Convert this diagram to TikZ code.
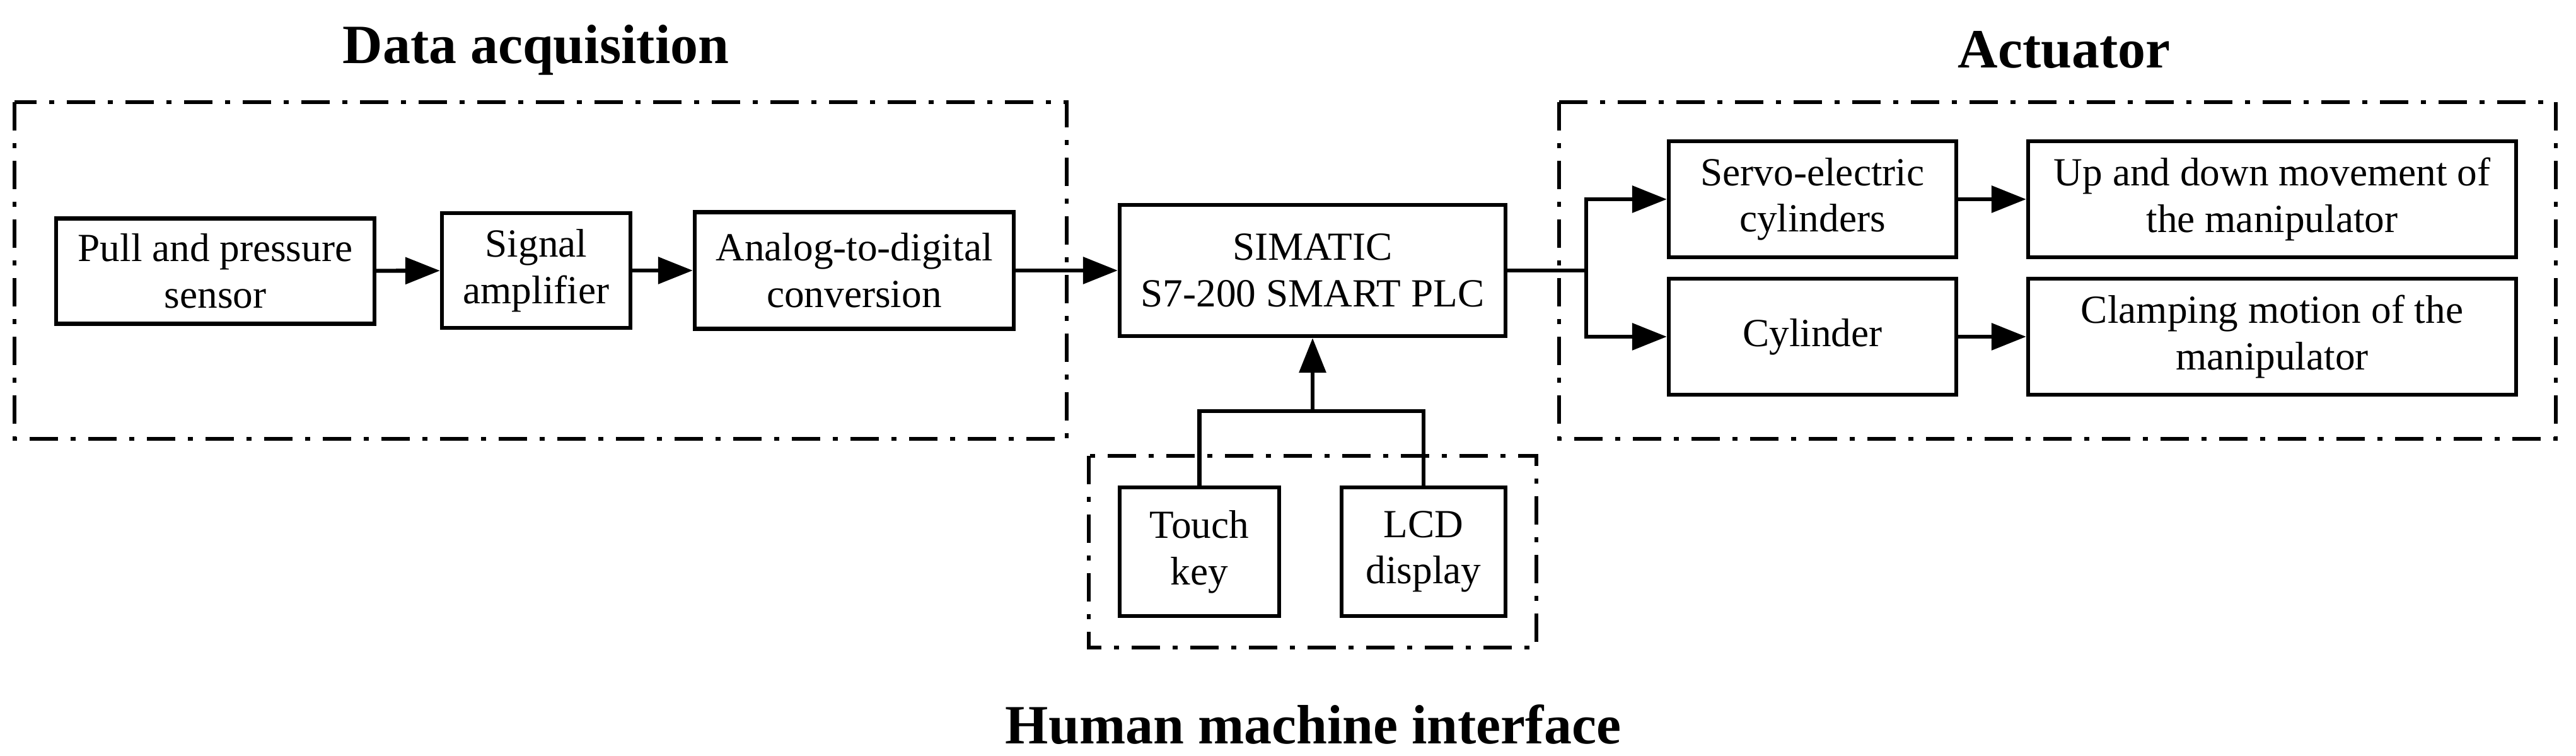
\documentclass[tikz,border=0pt]{standalone}
\usepackage{fontspec}
\setmainfont{Liberation Serif}
\usetikzlibrary{positioning,arrows.meta}

\tikzset{
  blk/.style={draw, line width=1.8pt, rectangle, align=center, inner sep=0pt,
    font=\fontsize{18}{21}\selectfont},
  grp/.style={line width=1.5pt, dash pattern=on 0.45cm off 0.2cm on 0.08cm off 0.2cm},
  ttl/.style={font=\fontsize{25}{30}\selectfont\bfseries},
  lnk/.style={line width=1.8pt, -{Triangle[length=0.55cm,width=0.42cm]}}
}

\begin{document}
\begin{tikzpicture}
\useasboundingbox (0,0) rectangle (40.86,11.99);
% Group frames
\draw[grp] (0.23,10.37) rectangle (16.92,5.03);
\draw[grp] (24.73,10.37) rectangle (40.54,5.03);
\draw[grp] (17.27,4.76) rectangle (24.37,1.72);

% Titles
\node[ttl] (tacq) at (8.5,11.2) {Data acquisition};
\node[ttl] (tact) at (32.74,11.2) {Actuator};
\node[ttl] (thmi) at (20.83,0.5) {Human machine interface};

% Blocks
\node[blk, minimum width=5.05cm, minimum height=1.67cm] (sensor) at (3.415,7.69) {Pull and pressure\\sensor};
\node[blk, minimum width=2.99cm, minimum height=1.82cm] (amp) at (8.505,7.70) {Signal\\amplifier};
\node[blk, minimum width=5.06cm, minimum height=1.85cm] (adc) at (13.55,7.70) {Analog-to-digital\\conversion};
\node[blk, minimum width=6.12cm, minimum height=2.08cm] (plc) at (20.82,7.70) {SIMATIC\\S7-200 SMART PLC};
\node[blk, minimum width=2.53cm, minimum height=2.04cm] (touch) at (19.025,3.24) {Touch\\key};
\node[blk, minimum width=2.60cm, minimum height=2.04cm] (lcd) at (22.58,3.24) {LCD\\display};
\node[blk, minimum width=4.56cm, minimum height=1.84cm] (servo) at (28.75,8.83) {Servo-electric\\cylinders};
\node[blk, minimum width=7.74cm, minimum height=1.84cm] (updown) at (36.04,8.83) {Up and down movement of\\the manipulator};
\node[blk, minimum width=4.56cm, minimum height=1.84cm] (cyl) at (28.75,6.65) {Cylinder};
\node[blk, minimum width=7.74cm, minimum height=1.84cm] (clamp) at (36.04,6.65) {Clamping motion of the\\manipulator};

% Junctions
\coordinate (jout) at (25.16,7.70);
\coordinate (jhmi) at (20.82,5.47);

% Arrows
\draw[lnk] (sensor) -- (amp);
\draw[lnk] (amp) -- (adc);
\draw[lnk] (adc) -- (plc);
\draw[line width=1.8pt] (plc) -- (jout);
\draw[lnk] (jout) |- (servo);
\draw[lnk] (jout) |- (cyl);
\draw[lnk] (servo) -- (updown);
\draw[lnk] (cyl) -- (clamp);
\draw[line width=1.8pt] (touch.north) |- (jhmi) -| (lcd.north);
\draw[lnk] (jhmi) -- (plc);
\end{tikzpicture}
\end{document}
